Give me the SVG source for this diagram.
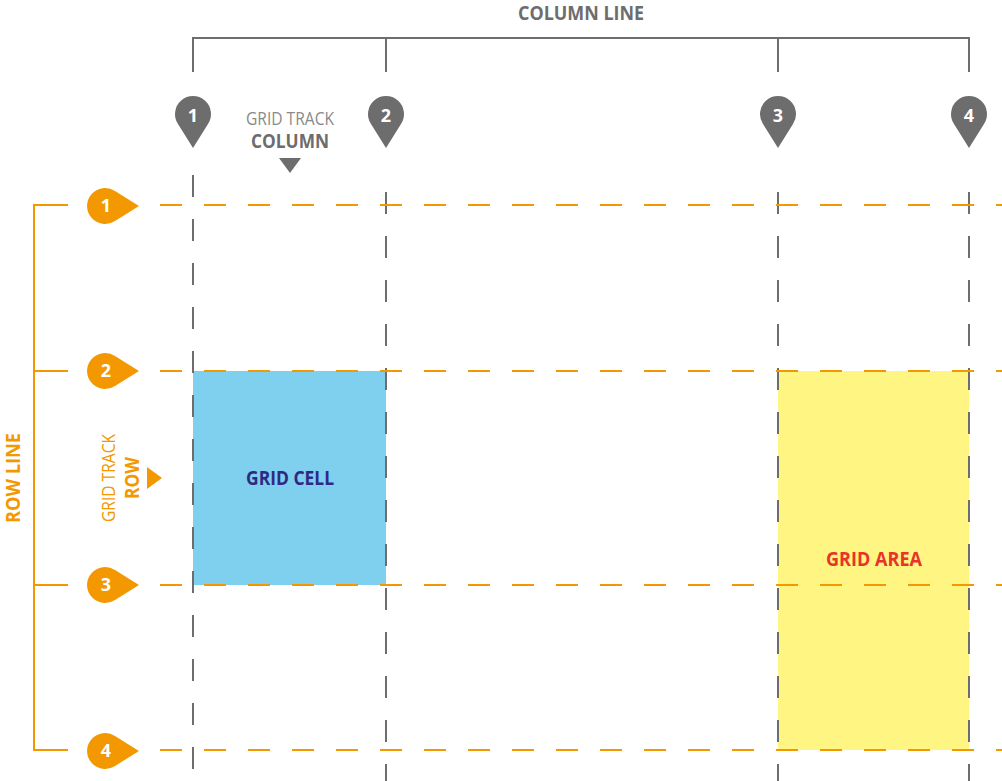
<svg xmlns="http://www.w3.org/2000/svg" width="1002" height="781" viewBox="0 0 1002 781">
<style>
.t{font-family:"Open Sans","Liberation Sans",sans-serif}
.g{stroke:#6d6d6d;stroke-width:2;fill:none}
.gd{stroke:#6d6d6d;stroke-width:2;stroke-dasharray:22 22;fill:none}
.o{stroke:#f39800;stroke-width:2;fill:none}
.od{stroke:#f39800;stroke-width:2;stroke-dasharray:22 22;fill:none}
.pg{fill:#6d6d6d}
.po{fill:#f39800}
.n{fill:#fff;font-family:"Open Sans",sans-serif;font-weight:bold;font-size:18px;text-anchor:middle}
</style>
<rect width="1002" height="781" fill="#fff"/>
<g id="cell"><rect x="193" y="371" width="193" height="214" fill="#7fcfef"/><text class="t" x="290" y="485" font-size="19" font-weight="bold" fill="#2e2a84" text-anchor="middle" textLength="88" lengthAdjust="spacingAndGlyphs">GRID CELL</text></g>
<g id="area"><rect x="778" y="371" width="191" height="379" fill="#fff582"/><text class="t" x="874" y="566" font-size="19" font-weight="bold" fill="#e8332a" text-anchor="middle" textLength="96" lengthAdjust="spacingAndGlyphs">GRID AREA</text></g>
<g id="connectors">
<path class="gd" d="M193 175V781M386 192V781M778 192V781M969 192V781"/>
<path class="od" d="M160 205H1002M160 371H1002M160 585H1002M160 750H1002"/>
<path class="g" d="M193 72V38H969V72M386 38V72M778 38V72"/>
<path class="o" d="M68 205H34V750H68M34 371H68M34 585H68"/>
</g>
<g id="colLabel"><text class="t" x="581" y="20" font-size="19" font-weight="bold" fill="#6d6d6d" text-anchor="middle" textLength="126" lengthAdjust="spacingAndGlyphs">COLUMN LINE</text></g>
<g id="rowLabel"><text class="t" transform="translate(20 478) rotate(-90)" font-size="19" font-weight="bold" fill="#f39800" text-anchor="middle" textLength="90" lengthAdjust="spacingAndGlyphs">ROW LINE</text></g>
<g id="trackCol"><text class="t" x="290" y="125" font-size="18" fill="#8a8a8a" text-anchor="middle" textLength="88" lengthAdjust="spacingAndGlyphs">GRID TRACK</text><text class="t" x="290" y="148" font-size="19" font-weight="bold" fill="#6d6d6d" text-anchor="middle" textLength="78" lengthAdjust="spacingAndGlyphs">COLUMN</text><path class="pg" d="M279 158H301L290 173Z"/></g>
<g id="trackRow"><text class="t" transform="translate(115 478) rotate(-90)" font-size="18" fill="#f39800" text-anchor="middle" textLength="88" lengthAdjust="spacingAndGlyphs">GRID TRACK</text><text class="t" transform="translate(139 478) rotate(-90)" font-size="19" font-weight="bold" fill="#f39800" text-anchor="middle" textLength="42" lengthAdjust="spacingAndGlyphs">ROW</text><path class="po" d="M147 467V489L162 478Z"/></g>
<g id="c1"><path class="pg" d="M193 148L178 124A18 18 0 1 1 208 124Z"/><text class="n" x="193" y="122">1</text></g>
<g id="c2"><path class="pg" d="M386 148L371 124A18 18 0 1 1 401 124Z"/><text class="n" x="386" y="122">2</text></g>
<g id="c3"><path class="pg" d="M778 148L763 124A18 18 0 1 1 793 124Z"/><text class="n" x="778" y="122">3</text></g>
<g id="c4"><path class="pg" d="M969 148L954 124A18 18 0 1 1 984 124Z"/><text class="n" x="969" y="122">4</text></g>
<g id="r1"><path class="po" d="M139 206L115 191A18 18 0 1 0 115 221Z"/><text class="n" x="106" y="212">1</text></g>
<g id="r2"><path class="po" d="M139 371L115 356A18 18 0 1 0 115 386Z"/><text class="n" x="106" y="377">2</text></g>
<g id="r3"><path class="po" d="M139 585L115 570A18 18 0 1 0 115 600Z"/><text class="n" x="106" y="591">3</text></g>
<g id="r4"><path class="po" d="M139 751L115 736A18 18 0 1 0 115 766Z"/><text class="n" x="106" y="757">4</text></g>
</svg>
